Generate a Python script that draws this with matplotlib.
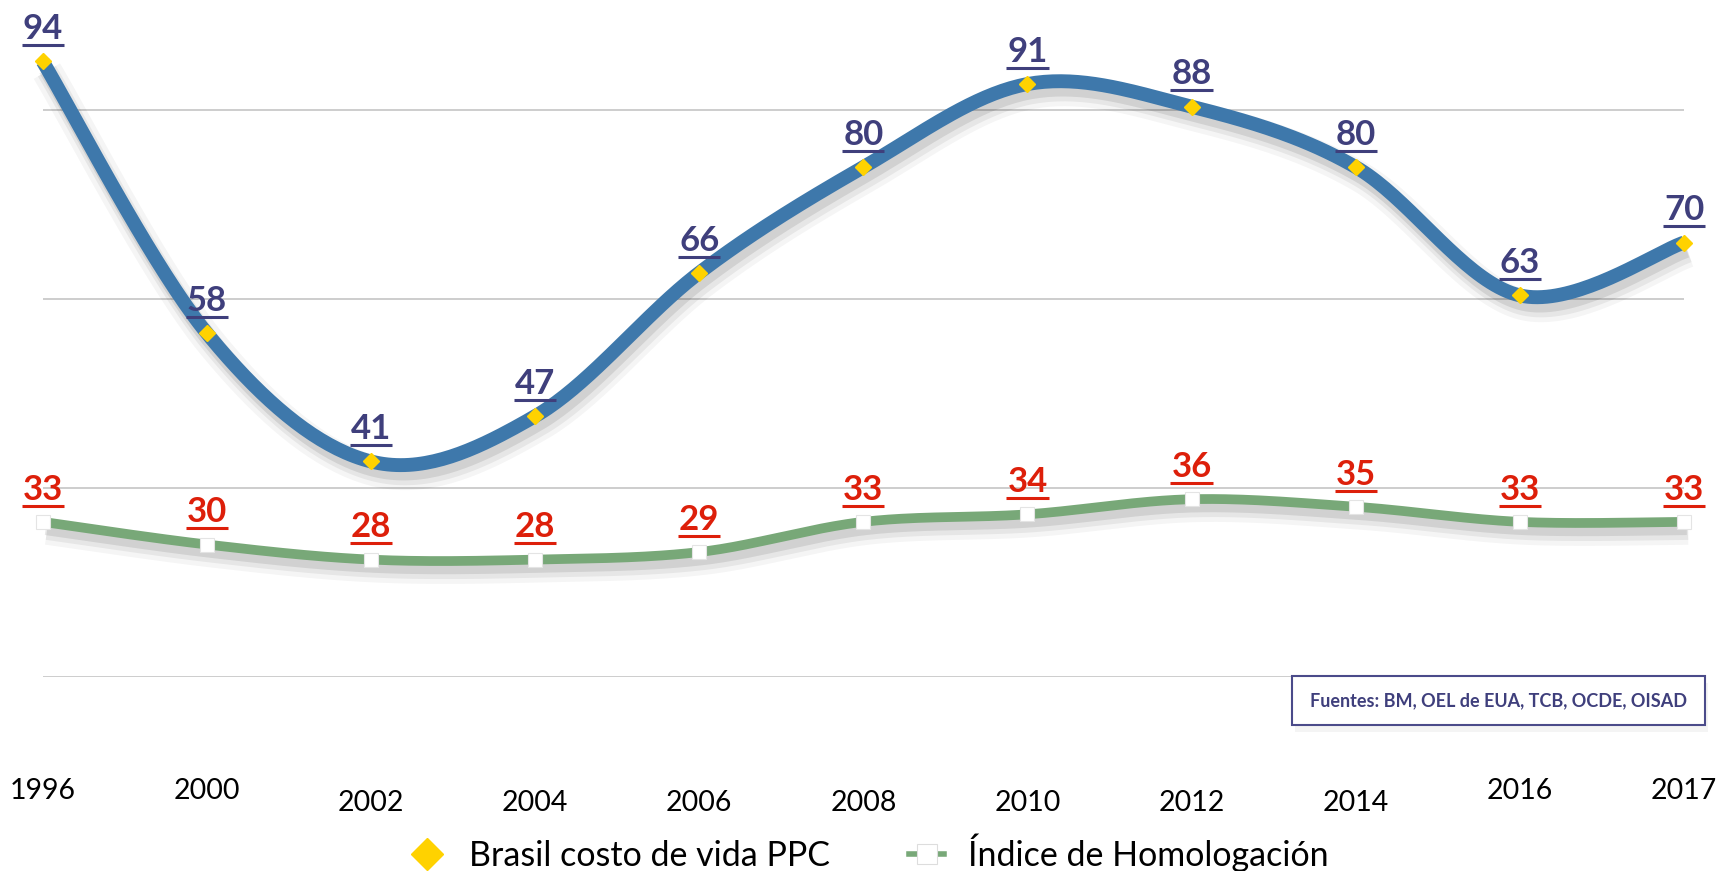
import numpy as np
import matplotlib
matplotlib.use("Agg")
import matplotlib.pyplot as plt
import matplotlib.patheffects as pe
from matplotlib.lines import Line2D
from matplotlib.patches import Rectangle
from matplotlib.transforms import IdentityTransform, blended_transform_factory

# data
years = ['1996', '2000', '2002', '2004', '2006', '2008', '2010', '2012', '2014', '2016', '2017']
brasil_ppc = [94, 58, 41, 47, 66, 80, 91, 88, 80, 63, 70]
homologacion = [33, 30, 28, 28, 29, 33, 34, 36, 35, 33, 33]
series_names = ['Brasil costo de vida PPC', 'Índice de Homologación']
source_text = 'Fuentes: BM, OEL de EUA, TCB, OCDE, OISAD'

BLUE = '#3E78AB'
GREEN = '#78A878'
YELLOW = '#FFD200'
NAVY = '#3F3F7C'
RED = '#DD1F0A'
GRID = '#C9C9C9'

FONT = ['Lato', 'DejaVu Sans']

W, H = 1718, 871
fig = plt.figure(figsize=(W / 100, H / 100), dpi=100)
# axes span from first to last category and from 12.5 to 94
x0, x1 = 42.7, 1684.0
ytop, ybot = 61.4, 676.6
ax = fig.add_axes([x0 / W, 1 - ybot / H, (x1 - x0) / W, (ybot - ytop) / H])
ax.set_xlim(0, len(years) - 1)
ax.set_ylim(12.5, 94)
ax.axis('off')

for g in [12.5, 37.5, 62.5, 87.5]:
    ax.axhline(g, color=GRID, lw=1.3, zorder=0)


# Excel-like smoothed line (bezier through the points)
def smooth(xs, ys, n=40):
    p = np.column_stack([xs, ys]).astype(float)
    p = np.vstack([p[0], p, p[-1]])
    out = []
    t = np.linspace(0, 1, n)[:, None]
    for i in range(1, len(p) - 2):
        p0, p1, p2, p3 = p[i - 1], p[i], p[i + 1], p[i + 2]
        c1 = p1 + (p2 - p0) / 6
        c2 = p2 - (p3 - p1) / 6
        seg = ((1 - t) ** 3) * p1 + 3 * ((1 - t) ** 2) * t * c1 + 3 * (1 - t) * t ** 2 * c2 + t ** 3 * p2
        out.append(seg if i == 1 else seg[1:])
    return np.vstack(out)


def shadow(lw):
    return [pe.SimpleLineShadow(offset=(3, -7), shadow_color='k', alpha=0.04, linewidth=lw + 12),
            pe.SimpleLineShadow(offset=(3, -7), shadow_color='k', alpha=0.06, linewidth=lw + 5),
            pe.SimpleLineShadow(offset=(2, -6), shadow_color='k', alpha=0.09, linewidth=lw),
            pe.Normal()]


xs = np.arange(len(years))
cb = smooth(xs, brasil_ppc)
cg = smooth(xs, homologacion)
ax.plot(cb[:, 0], cb[:, 1], color=BLUE, lw=10, solid_capstyle='butt', clip_on=False,
        path_effects=shadow(10), zorder=3)
ax.plot(cg[:, 0], cg[:, 1], color=GREEN, lw=7, solid_capstyle='butt', clip_on=False,
        path_effects=shadow(7), zorder=2)
ax.plot(xs, brasil_ppc, ls='none', marker='D', ms=8.5, mfc=YELLOW, mec=YELLOW, clip_on=False, zorder=5)
ax.plot(xs, homologacion, ls='none', marker='s', ms=10, mfc='white', mec='#E4E4E4', mew=0.8,
        clip_on=False, zorder=5)

# data labels, underlined
labels = []
for series, col in [(brasil_ppc, NAVY), (homologacion, RED)]:
    for i, v in enumerate(series):
        t = ax.annotate(str(v), (i, v), xytext=(0, 16), textcoords='offset points',
                        ha='center', va='baseline', fontsize=25, fontweight='bold',
                        family=FONT, color=col, zorder=6, annotation_clip=False)
        labels.append((t, i, v, col))

# staggered year labels under the plot
high = {'1996', '2000', '2016', '2017'}
trans = blended_transform_factory(ax.transData, ax.transAxes)
for i, yr in enumerate(years):
    dy = -114 if yr in high else -126
    ax.annotate(yr, (i, 0), xycoords=trans, xytext=(0, dy * 0.72), textcoords='offset points',
                ha='center', va='center', fontsize=20.5, family=FONT, color='black',
                annotation_clip=False)

# source box
bx0, bx1, by0, by1 = 1292, 1705, 676, 725
fig.patches.append(Rectangle((bx0 / W + 0.002, 1 - by1 / H - 0.008), (bx1 - bx0) / W, (by1 - by0) / H,
                             transform=fig.transFigure, facecolor='k', alpha=0.045, edgecolor='none'))
fig.patches.append(Rectangle((bx0 / W, 1 - by1 / H), (bx1 - bx0) / W, (by1 - by0) / H,
                             transform=fig.transFigure, facecolor='white', edgecolor='#4B4B8A', lw=1.5))
fig.text((bx0 + bx1) / 2 / W, 1 - (by0 + by1) / 2 / H, source_text, ha='center', va='center',
         fontsize=13, fontweight='bold', family=FONT, color=NAVY)

# legend
handles = [Line2D([], [], color=YELLOW, ls='none', marker='D', ms=16, mfc=YELLOW, mec=YELLOW),
           Line2D([], [], color=GREEN, lw=4, marker='s', ms=15, mfc='white', mec='#DDDDDD', mew=0.8)]
fig.legend(handles, series_names, loc='center left', bbox_to_anchor=(410 / W, 1 - 853 / H), ncol=2,
           frameon=False, borderpad=0, borderaxespad=0, handlelength=1.0, handletextpad=0.72,
           columnspacing=2.35, prop={'family': FONT, 'size': 24.5})

# underline the data labels (needs text extents)
fig.canvas.draw()
for t, i, v, col in labels:
    bb = t.get_window_extent()
    px, py = ax.transData.transform((i, v))
    yline = py + 16 / 0.72 - 6
    fig.add_artist(Line2D([bb.x0 - 1, bb.x1 + 1], [yline, yline], transform=IdentityTransform(),
                          color=col, lw=2.2, solid_capstyle='butt'))

fig.savefig('out.png', dpi=100, facecolor='white')
